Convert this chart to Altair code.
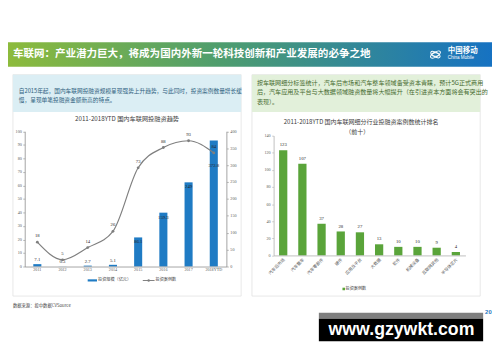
import altair as alt
import pandas as pd

# ---------------- data ----------------
years = ["2011", "2012", "2013", "2014", "2015", "2016", "2017", "2018YTD"]
invest_amount = [7.1, 0.3, 2.7, 5.1, 86.1, 159.3, 249, 372.8]   # 投资规模（亿元）
invest_cases = [18, 5, 14, 26, 73, 88, 93, 84]                  # 投资案例数

segments = ["汽车后市场", "汽车整车", "汽车零部件", "硬件", "应用及平台",
            "大数据", "软件", "机械设备", "互联网其他", "半导体芯片"]
segment_cases = [123, 107, 37, 28, 27, 13, 10, 10, 9, 4]

left_ticks = list(range(0, 101, 10))
right_ticks = list(range(0, 401, 50))
seg_ticks = list(range(0, 141, 20))

title_text = "车联网：产业潜力巨大，将成为国内外新一轮科技创新和产业发展的必争之地"
left_note = ["自2015年起，国内车联网投融资规模呈现强势上升趋势，与此同时，投资案例数量增长缓",
             "慢，呈现单笔投融资金额新高的特点。"]
right_note = ["按车联网细分标签统计，汽车后市场和汽车整车领域备受资本青睐，预计5G正式商用",
              "后，汽车应用及平台与大数据领域融资数量将大幅提升（在引进资本方面将会有突出的",
              "表现）。"]
left_title = "2011-2018YTD 国内车联网投融资趋势"
right_title = ["2011-2018YTD 国内车联网细分行业投融资案例数统计排名", "（前十）"]
legend_amount = "投资规模（亿元）"
legend_cases = "投资案例数"
source_text = "数据来源：投中数据CVSource"

df_left = pd.DataFrame({"year": years, "amount": invest_amount, "cases": invest_cases})
df_right = pd.DataFrame({"seg": segments, "n": segment_cases})

# ---------------- layout helpers ----------------
W, H = 492, 340
CJK = "Noto Sans CJK SC"
SERIF = "Liberation Serif"


def X(v):
    return v - 8


def Y(v):
    return v - 8


one = pd.DataFrame({"k": [0]})


def box(x1, y1, x2, y2, fill, stroke=None, sw=0.0):
    props = {"fill": fill}
    if stroke is not None:
        props["stroke"] = stroke
        props["strokeWidth"] = sw
    return alt.Chart(one).mark_rect(**props).encode(
        x=alt.value(X(x1)), x2=alt.value(X(x2)),
        y=alt.value(Y(y1)), y2=alt.value(Y(y2)))


def txt(x, y, s, size, color, align="left", weight="normal", font=CJK):
    return alt.Chart(one).mark_text(
        text=s, fontSize=size, color=color, align=align, baseline="middle",
        fontWeight=weight, font=font).encode(x=alt.value(X(x)), y=alt.value(Y(y)))


layers = []

# banner
grad = {"gradient": "linear", "x1": 0, "x2": 1, "y1": 0, "y2": 0,
        "stops": [{"offset": 0, "color": "#8fbc3a"},
                  {"offset": 0.45, "color": "#4e9d6e"},
                  {"offset": 1, "color": "#1672c2"}]}
layers.append(box(0, 40, 500, 65, grad))
layers.append(txt(13, 52.5, title_text, 10.7, "white", weight="bold"))
ell = "M -1 0 A 1 0.42 0 1 0 1 0 A 1 0.42 0 1 0 -1 0 Z"
for ang, sz in [(330, 130), (30, 110), (0, 70)]:
    layers.append(alt.Chart(one).mark_point(shape=ell, size=sz, angle=ang, filled=False,
                                            color="white", strokeWidth=1, opacity=1)
                  .encode(x=alt.value(X(442.5)), y=alt.value(Y(52.5))))
layers.append(txt(455, 49, "中国移动", 7.6, "white", weight="bold"))
layers.append(txt(455, 56, "China Mobile", 4.6, "white", font="Liberation Sans"))

# panels
layers.append(box(13, 73, 245, 298, "white", "#e2e2e2", 0.8))
layers.append(box(256, 73, 488, 298, "white", "#e2e2e2", 0.8))
layers.append(box(13, 73, 245, 111, "#dbeef4"))
layers.append(box(256, 73, 488, 111, "#e2f0da"))
for i, line in enumerate(left_note):
    layers.append(txt(19, 90 + 9.2 * i, line, 5.8, "#2f5f80"))
for i, line in enumerate(right_note):
    layers.append(txt(261, 81.5 + 9.4 * i, line, 6.2, "#466a2e"))
layers.append(txt(129, 118.5, left_title, 6.3, "#404040", align="center"))
layers.append(txt(367, 121.5, right_title[0], 6.1, "#404040", align="center"))
layers.append(txt(363, 131.5, right_title[1], 6.1, "#404040", align="center"))

# ---------------- left chart ----------------
axc = dict(title=None, grid=False, zindex=2, domainColor="#8c8c8c", domainWidth=0.8,
           tickColor="#8c8c8c", tickSize=2, tickWidth=0.6, labelFont=SERIF,
           labelFontSize=4.2, labelColor="#595959", labelPadding=1.5)
xL = alt.Scale(type="band", domain=years, range=[X(25), X(230)], paddingInner=0.68, paddingOuter=0.34)
yAmt = alt.Scale(domain=[0, 400], range=[Y(268), Y(130.5)], nice=False)
yCase = alt.Scale(domain=[0, 100], range=[Y(268), Y(130.5)], nice=False)

xax = dict(axc)
xax.update(ticks=False, labelAngle=0)
layers.append(alt.Chart(df_left).mark_bar(color="#1f7bc4").encode(
    x=alt.X("year:N", sort=years, scale=xL,
            axis=alt.Axis(orient="bottom", offset=Y(268) - H, **xax)),
    y=alt.Y("amount:Q", scale=yAmt,
            axis=alt.Axis(orient="right", offset=X(230) - W, values=right_ticks, **axc))))
layers.append(alt.Chart(df_left).mark_line(color="#7f7f7f", strokeWidth=1.2, interpolate="monotone").encode(
    x=alt.X("year:N", sort=years, scale=xL, axis=None),
    y=alt.Y("cases:Q", scale=yCase,
            axis=alt.Axis(orient="left", offset=-X(25), values=left_ticks, **axc))))
layers.append(alt.Chart(df_left).mark_point(filled=True, size=8, color="#7f7f7f", opacity=1).encode(
    x=alt.X("year:N", sort=years, scale=xL, axis=None),
    y=alt.Y("cases:Q", scale=yCase, axis=None)))
layers.append(alt.Chart(df_left).mark_text(dy=-6, fontSize=4.8, font=SERIF, color="#262626").encode(
    x=alt.X("year:N", sort=years, scale=xL, axis=None),
    y=alt.Y("cases:Q", scale=yCase, axis=None), text="cases:Q"))
for cond, dy in [("datum.amount < 50", -4), ("datum.amount >= 50 && datum.amount < 300", 5),
                 ("datum.amount >= 300", 26)]:
    layers.append(alt.Chart(df_left).transform_filter(cond).mark_text(
        dy=dy, fontSize=4.8, font=SERIF, color="#262626").encode(
        x=alt.X("year:N", sort=years, scale=xL, axis=None),
        y=alt.Y("amount:Q", scale=yAmt, axis=None), text="amount:Q"))

# left legend
layers.append(box(89, 281, 98.5, 283.2, "#1f7bc4"))
layers.append(txt(99.5, 282.2, legend_amount, 4.2, "#404040"))
layers.append(alt.Chart(one).mark_rule(color="#7f7f7f", strokeWidth=1).encode(
    x=alt.value(X(145)), x2=alt.value(X(157)), y=alt.value(Y(282.2))))
layers.append(alt.Chart(one).mark_point(filled=True, size=6, color="#7f7f7f", opacity=1).encode(
    x=alt.value(X(151)), y=alt.value(Y(282.2))))
layers.append(txt(158, 282.2, legend_cases, 4.2, "#404040"))

# ---------------- right chart ----------------
xR = alt.Scale(type="band", domain=segments, range=[X(278), X(473)], paddingInner=0.57, paddingOuter=0.285)
yR = alt.Scale(domain=[0, 140], range=[Y(256.7), Y(134.9)], nice=False)
rax = dict(axc)
rax.update(domainColor="#b0b0b0", tickColor="#b0b0b0")
rxax = dict(rax)
rxax.update(ticks=False, labelAngle=-45, labelFont=CJK, labelFontSize=4.3, labelPadding=2)
layers.append(alt.Chart(df_right).mark_bar(color="#5aa43a").encode(
    x=alt.X("seg:N", sort=segments, scale=xR,
            axis=alt.Axis(orient="bottom", offset=Y(256.7) - H, **rxax)),
    y=alt.Y("n:Q", scale=yR,
            axis=alt.Axis(orient="left", offset=-X(278), values=seg_ticks, **rax))))
layers.append(alt.Chart(df_right).mark_text(dy=-5, fontSize=4.8, font=SERIF, color="#262626").encode(
    x=alt.X("seg:N", sort=segments, scale=xR, axis=None),
    y=alt.Y("n:Q", scale=yR, axis=None), text="n:Q"))
layers.append(box(348, 289.5, 350.6, 292.1, "#5aa43a"))
layers.append(txt(351.2, 290.8, legend_cases, 4.2, "#404040"))

# footer + watermark
layers.append(txt(13, 308, source_text, 4.4, "#404040"))
layers.append(box(324, 315, 491, 321, "#7f7f7f"))
layers.append(box(324, 321, 491, 344, "black"))
layers.append(txt(408, 333, "www.gzywkt.com", 18, "white", align="center", weight="bold",
                  font="Liberation Sans"))
layers.append(txt(493, 314, "20", 6, "#1f78c1", weight="bold", font="Liberation Sans"))

chart = alt.layer(*layers).resolve_scale(x="independent", y="independent").properties(
    width=W, height=H, autosize=alt.AutoSizeParams(type="none"), padding=0,
    background="white").configure_view(stroke=None)

chart.save("out.html", embed_options={"renderer": "svg", "actions": False})
